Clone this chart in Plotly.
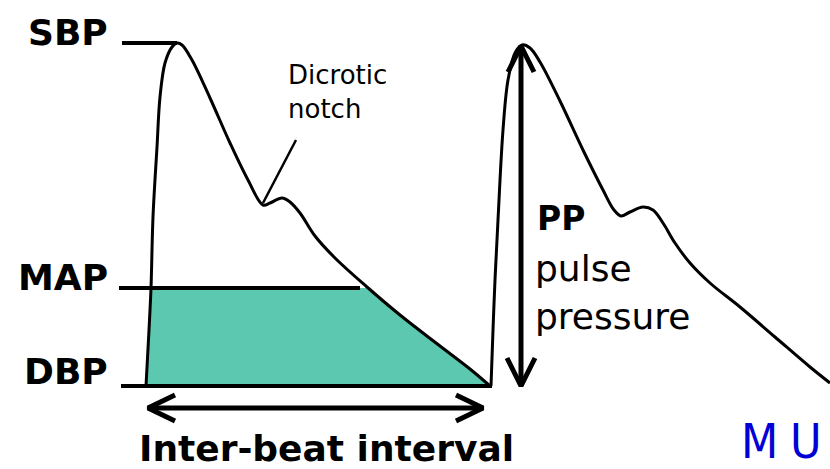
import plotly.graph_objects as go

# Waveform points (x = time position, y = pressure position, screen units)
beat1_x = [146, 149, 151, 153, 157, 160, 165, 172, 177, 182, 192, 210, 230, 248, 263, 270, 282, 290, 300, 315, 335, 367, 400, 440, 470, 490]
beat1_y = [386, 330, 288, 217, 147, 97, 63, 47, 43, 45, 60, 98, 143, 180, 205, 203, 198, 202, 213, 236, 258, 287, 315, 346, 369, 386]

beat2_x = [491, 493, 495, 498, 503, 508, 515, 522, 530, 540, 560, 583, 603, 614, 621, 630, 643, 653, 663, 675, 690, 710, 740, 775, 810, 830]
beat2_y = [386, 330, 280, 220, 130, 80, 53, 45, 48, 62, 101, 150, 190, 210, 216, 212, 207, 210, 223, 243, 263, 283, 307, 337, 367, 383]

# Mean-pressure area (below MAP, above DBP, within one beat)
area_x = [146, 151, 367, 400, 440, 470, 490, 146]
area_y = [386, 288, 288, 315, 346, 369, 386, 386]

# Level markers
level_names = ["SBP", "MAP", "DBP"]
level_y = [43, 288, 386]
level_x0 = [122, 119, 121]
level_x1 = [177, 360, 492]
label_x = [68, 63, 66]
label_y = [32, 277, 371]

# Arrows
ibi_x = [148, 483]
ibi_y = 408
pp_x = 521
pp_y = [46, 386]

# Dicrotic notch pointer
notch_ptr_x = [296, 263]
notch_ptr_y = [140, 203]

fig = go.Figure()

fig.add_trace(go.Scatter(x=area_x, y=area_y, mode="lines", fill="toself",
                         fillcolor="#5BC8AF", line=dict(width=0), hoverinfo="skip"))

for n, y, a, b in zip(level_names, level_y, level_x0, level_x1):
    fig.add_trace(go.Scatter(x=[a, b], y=[y, y], mode="lines",
                             line=dict(color="black", width=4), hoverinfo="skip"))

fig.add_trace(go.Scatter(x=beat1_x, y=beat1_y, mode="lines",
                         line=dict(color="black", width=3, shape="spline", smoothing=1.0)))
fig.add_trace(go.Scatter(x=beat2_x, y=beat2_y, mode="lines",
                         line=dict(color="black", width=3, shape="spline", smoothing=1.0)))

fig.add_trace(go.Scatter(x=notch_ptr_x, y=notch_ptr_y, mode="lines",
                         line=dict(color="black", width=2.5)))

# Inter-beat interval double arrow
fig.add_trace(go.Scatter(x=ibi_x, y=[ibi_y, ibi_y], mode="lines", line=dict(color="black", width=5)))
fig.add_trace(go.Scatter(x=[ibi_x[0] + 27, ibi_x[0], ibi_x[0] + 27],
                         y=[ibi_y - 13, ibi_y, ibi_y + 13], mode="lines",
                         line=dict(color="black", width=5)))
fig.add_trace(go.Scatter(x=[ibi_x[1] - 27, ibi_x[1], ibi_x[1] - 27],
                         y=[ibi_y - 13, ibi_y, ibi_y + 13], mode="lines",
                         line=dict(color="black", width=5)))

# Pulse pressure double arrow
fig.add_trace(go.Scatter(x=[pp_x, pp_x], y=pp_y, mode="lines", line=dict(color="black", width=5)))
fig.add_trace(go.Scatter(x=[pp_x - 13, pp_x, pp_x + 13],
                         y=[pp_y[0] + 26, pp_y[0], pp_y[0] + 26], mode="lines",
                         line=dict(color="black", width=5)))
fig.add_trace(go.Scatter(x=[pp_x - 14, pp_x, pp_x + 14],
                         y=[pp_y[1] - 28, pp_y[1], pp_y[1] - 28], mode="lines",
                         line=dict(color="black", width=5)))

bold = dict(family="DejaVu Sans", size=36, color="black")
normal = dict(family="DejaVu Sans", size=36, color="black")

for n, x, y in zip(level_names, label_x, label_y):
    fig.add_annotation(x=x, y=y, text=f"<b>{n}</b>", showarrow=False, font=bold,
                       xanchor="center", yanchor="middle")

fig.add_annotation(x=326, y=448, text="<b>Inter-beat interval</b>", showarrow=False,
                   font=dict(family="DejaVu Sans", size=36, color="black"),
                   xanchor="center", yanchor="middle")
fig.add_annotation(x=286, y=92, text="Dicrotic<br>notch", showarrow=False,
                   font=dict(family="DejaVu Sans", size=26, color="black"),
                   xanchor="left", yanchor="middle", align="left")
fig.add_annotation(x=535, y=218, text="<b>PP</b>", showarrow=False,
                   font=dict(family="DejaVu Sans", size=33, color="black"),
                   xanchor="left", yanchor="middle")
fig.add_annotation(x=533, y=268, text="pulse", showarrow=False, font=normal,
                   xanchor="left", yanchor="middle")
fig.add_annotation(x=533, y=316, text="pressure", showarrow=False, font=normal,
                   xanchor="left", yanchor="middle")

logo_font = dict(family="DejaVu Sans Condensed, DejaVu Sans", size=48, color="#0000D6")
fig.add_annotation(x=759, y=441, text="M", showarrow=False, font=logo_font,
                   xanchor="center", yanchor="middle")
fig.add_annotation(x=806, y=441, text="U", showarrow=False, font=logo_font,
                   xanchor="center", yanchor="middle")

fig.update_layout(
    width=830, height=469, margin=dict(l=0, r=0, t=0, b=0),
    paper_bgcolor="white", plot_bgcolor="white", showlegend=False,
    xaxis=dict(range=[0, 830], visible=False, fixedrange=True),
    yaxis=dict(range=[469, 0], visible=False, fixedrange=True),
)

fig.write_html("out.html", config={"displayModeBar": False},
               post_script="document.body.style.margin='0';document.body.style.overflow='hidden';")
